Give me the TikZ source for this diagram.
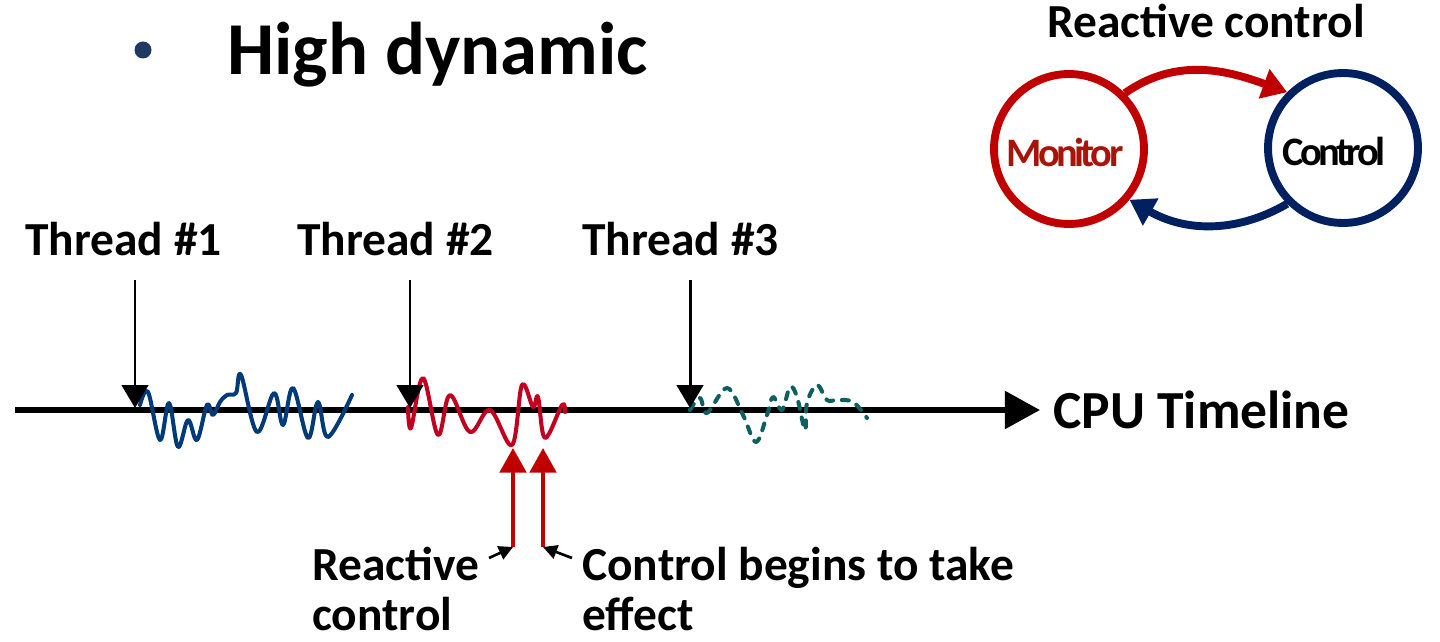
\documentclass[tikz,border=0pt]{standalone}
\usepackage{fontspec}
\setmainfont{Carlito}
\usetikzlibrary{arrows.meta}
\definecolor{ctlred}{HTML}{C00000}
\definecolor{ctlnavy}{HTML}{002060}
\definecolor{waveblue}{HTML}{003A78}
\definecolor{wavered}{HTML}{C0001E}
\definecolor{waveteal}{HTML}{0E6060}
\definecolor{monred}{HTML}{A8140A}
\definecolor{dotblue}{HTML}{1F3864}
\tikzset{
  lbl/.style={font=\fontsize{27}{30}\selectfont\bfseries, inner sep=0pt, anchor=base west},
  thread/.style={line width=1.7pt, -{Triangle[width=15pt,length=13pt]}},
  wave/.style={line width=2.3pt, line cap=round, line join=round},
  upred/.style={ctlred, line width=2.2pt, -{Triangle[width=15pt,length=14pt]}},
  pointer/.style={line width=1.5pt, -{Triangle[width=8pt,length=8pt]}},
  ring/.style={circle, minimum size=3cm, line width=4.5pt, inner sep=0pt},
  ringtxt/.style={font=\fontsize{23}{25}\selectfont\bfseries\addfontfeature{LetterSpace=-9}},
  loopar/.style={line width=4.5pt, -{Triangle[width=17pt,length=14pt]}}
}
\begin{document}
\begin{tikzpicture}[x=0.02cm,y=-0.02cm]
\useasboundingbox (0,0) rectangle (1440,642);

% title
\fill[dotblue] (143,50) circle (8.5);
\node[lbl, font=\fontsize{42.5}{46}\selectfont\bfseries] (title) at (227,75) {High dynamic};

% reactive control loop
\node[lbl] (rctitle) at (1047,38) {Reactive control};
\node[ring, draw=ctlred] (mon) at (1069,149) {};
\node[ring, draw=ctlnavy] (ctl) at (1343,148) {};
\node[ringtxt, text=monred] (montxt) at (1065,152) {Monitor};
\node[ringtxt] (ctltxt) at (1334,151) {Control};
\draw[loopar, ctlred] (mon.45) to[out=35, in=160] (ctl.135);
\draw[loopar, ctlnavy] (ctl.225) to[out=210, in=-30] (mon.-40);

% timeline
\coordinate (tl0) at (15,410);
\coordinate (tl1) at (1040,410);
\draw[line width=3.4pt, -{Triangle[width=21pt,length=20pt]}] (tl0) -- (tl1);
\node[lbl, font=\fontsize{30.5}{33}\selectfont\bfseries] (cpu) at (1053,428) {CPU Timeline};

% threads
\draw[wave, waveblue] plot[smooth, tension=0.6] coordinates {(140,405) (148,392) (160,440) (169,403) (178,447) (188,420) (197,440) (207,405) (213,415) (220,402) (227,395) (236,393) (241,375) (257,432) (274,393) (283,425) (293,388) (308,438) (318,402) (328,437) (352,395)};
\draw[wave, wavered] plot[smooth, tension=0.6] coordinates {(408,407) (411,428) (423,378) (438,435) (450,395) (470,432) (490,410) (512,445) (522,385) (533,407) (538,397) (545,438) (562,405) (565,412)};
\draw[wave, waveteal, dash pattern=on 4pt off 5pt] plot[smooth, tension=0.6] coordinates {(690,410) (700,398) (707,413) (727,388) (743,415) (756,442) (767,415) (773,397) (782,410) (790,387) (797,397) (805,430) (807,403) (817,385) (827,400) (837,400) (853,402) (867,418)};

\node[lbl] (t1) at (25,255) {Thread \#1};
\node[lbl] (t2) at (297,255) {Thread \#2};
\node[lbl] (t3) at (582,255) {Thread \#3};
\coordinate (a1) at (135,280);
\coordinate (a2) at (410,280);
\coordinate (a3) at (690,280);
\coordinate (b1) at (135,408);
\coordinate (b2) at (410,408);
\coordinate (b3) at (690,408);
\draw[thread] (a1) -- (b1);
\draw[thread] (a2) -- (b2);
\draw[thread] (a3) -- (b3);

% reaction markers
\coordinate (r1b) at (513,547);
\coordinate (r1t) at (513,448);
\coordinate (r2b) at (543,547);
\coordinate (r2t) at (543,448);
\draw[upred] (r1b) -- (r1t);
\draw[upred] (r2b) -- (r2t);

\node[lbl] (react) at (312,580) {Reactive};
\node[lbl] (react2) at (312,630) {control};
\node[lbl] (effect) at (582,580) {Control begins to take};
\node[lbl] (effect2) at (582,630) {effect};
\coordinate (p1) at (489,558);
\coordinate (p2) at (572,558);
\draw[pointer] (p1) -- (r1b);
\draw[pointer] (p2) -- (r2b);
\end{tikzpicture}
\end{document}
